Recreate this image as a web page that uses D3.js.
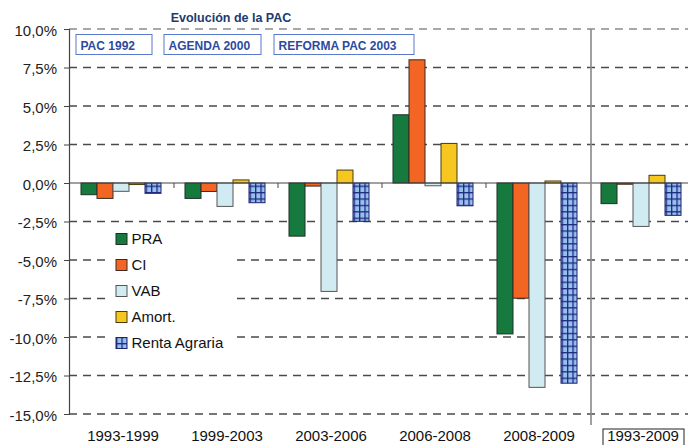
<!DOCTYPE html>
<html>
<head>
<meta charset="utf-8">
<script src="https://cdn.jsdelivr.net/npm/d3@7"></script>
<style>
  html, body { margin: 0; padding: 0; background: #fff; }
  svg { display: block; }
  text { font-family: "Liberation Sans", Arial, sans-serif; }
</style>
</head>
<body>
<svg id="chart" width="688" height="445"></svg>
<script>
// ---- Data ----
const categories = ["1993-1999", "1999-2003", "2003-2006", "2006-2008", "2008-2009", "1993-2009"];
const seriesNames = ["PRA", "CI", "VAB", "Amort.", "Renta Agraria"];
const PRA   = [-0.76, -1.0, -3.45, 4.43, -9.8, -1.34];
const CI    = [-1.0, -0.55, -0.2, 8.0, -7.48, -0.08];
const VAB   = [-0.54, -1.52, -7.04, -0.18, -13.27, -2.82];
const Amort = [-0.1, 0.2, 0.84, 2.57, 0.13, 0.5];
const Renta = [-0.67, -1.28, -2.49, -1.48, -13.0, -2.1];
const yTicks = [10, 7.5, 5, 2.5, 0, -2.5, -5, -7.5, -10, -12.5, -15];
const title = "Evolución de la PAC";
const periodLabels = ["PAC 1992", "AGENDA 2000", "REFORMA PAC 2003"];

const seriesValues = [PRA, CI, VAB, Amort, Renta];
const colors = ["#167a3e", "#f26522", "#d0ebf1", "#f6c720", "url(#grid)"];
const strokes = ["#1f2f24", "#3a2a20", "#555", "#4a3a10", "#1c2270"];

const svg = d3.select("#chart");

// grid pattern for Renta Agraria
const defs = svg.append("defs");
const pat = defs.append("pattern").attr("id", "grid")
  .attr("patternUnits", "userSpaceOnUse")
  .attr("width", 5.4).attr("height", 6.4);
pat.append("rect").attr("width", 5.4).attr("height", 6.4).attr("fill", "#1f2a80");
pat.append("rect").attr("x", 1.3).attr("y", 1.3).attr("width", 4.1).attr("height", 5.1).attr("fill", "#98c0ee");

// ---- Scales ----
const x = d3.scaleBand().domain(categories).range([70, 694]);
const xi = d3.scaleBand().domain(seriesNames).range([11, 91]);
const y = d3.scaleLinear().domain([-15, 10]).range([414, 29]);

// ---- Gridlines ----
svg.append("g").selectAll("line").data(yTicks.filter(d => d !== 0)).join("line")
  .attr("x1", 69).attr("x2", 688)
  .attr("y1", d => y(d)).attr("y2", d => y(d))
  .attr("stroke", d => d === 10 ? "#8a8a8a" : "#4a4a4a")
  .attr("stroke-width", 1.3)
  .attr("stroke-dasharray", "8,6");

// ---- Y axis ----
const yAxis = d3.axisLeft(y).tickValues(yTicks)
  .tickFormat(d => d3.format(".1f")(d).replace(".", ",").replace("−", "-") + "%")
  .tickSize(5).tickPadding(7);
const gy = svg.append("g").attr("transform", "translate(69,0)").call(yAxis);
gy.select(".domain").attr("stroke", "#444").attr("stroke-width", 1.2);
gy.selectAll(".tick line").attr("stroke", "#444");
gy.selectAll(".tick text").attr("font-size", 15).attr("fill", "#222")
  .attr("font-family", "Liberation Sans, Arial, sans-serif").attr("dy", "0.42em");

// ---- Legend background (covers gridlines) ----
const legend = svg.append("g");
legend.append("rect").attr("x", 106).attr("y", 226).attr("width", 126).attr("height", 130).attr("fill", "#fff");

// ---- Bars ----
const groups = svg.append("g").selectAll("g").data(categories).join("g")
  .attr("transform", d => `translate(${x(d)},0)`);
groups.selectAll("rect").data((c, i) => seriesNames.map((s, k) => ({ s, k, v: seriesValues[k][i] }))).join("rect")
  .attr("x", d => xi(d.s))
  .attr("width", xi.bandwidth())
  .attr("y", d => y(Math.max(0, d.v)))
  .attr("height", d => Math.abs(y(d.v) - y(0)))
  .attr("fill", d => colors[d.k])
  .attr("stroke", d => strokes[d.k])
  .attr("stroke-width", 1);

// ---- Zero line & category ticks ----
svg.append("line").attr("x1", 69).attr("x2", 688).attr("y1", y(0)).attr("y2", y(0))
  .attr("stroke", "#444").attr("stroke-width", 1.2);
svg.append("g").selectAll("line").data(categories.slice(1, 5)).join("line")
  .attr("x1", d => x(d)).attr("x2", d => x(d))
  .attr("y1", y(0)).attr("y2", y(0) + 5)
  .attr("stroke", "#444");

// separator line
svg.append("line").attr("x1", x(categories[5]) + 1).attr("x2", x(categories[5]) + 1)
  .attr("y1", y(10)).attr("y2", 425).attr("stroke", "#888").attr("stroke-width", 1.6);

// ---- Category labels ----
svg.append("g").selectAll("text").data(categories).join("text")
  .attr("x", d => x(d) + x.bandwidth() / 2 + 1)
  .attr("y", 441)
  .attr("text-anchor", "middle")
  .attr("font-size", 15).attr("fill", "#111")
  .text(d => d);
svg.append("rect").attr("x", 603).attr("y", 429).attr("width", 81).attr("height", 20)
  .attr("fill", "none").attr("stroke", "#222").attr("stroke-width", 1);

// ---- Legend items ----
const li = legend.selectAll("g.item").data(seriesNames).join("g").attr("class", "item")
  .attr("transform", (d, i) => `translate(116,${239 + i * 26})`);
li.append("rect").attr("x", 0).attr("y", -5.5).attr("width", 11).attr("height", 11)
  .attr("fill", (d, i) => colors[i]).attr("stroke", (d, i) => strokes[i]).attr("stroke-width", 1);
li.append("text").attr("x", 15.5).attr("y", 0).attr("dy", "0.36em")
  .attr("font-size", 15).attr("fill", "#111").text(d => d);

// ---- Title ----
svg.append("text").attr("x", 231).attr("y", 22).attr("text-anchor", "middle")
  .attr("font-size", 12.5).attr("font-weight", "bold").attr("fill", "#203a70").text(title);

// ---- Period boxes ----
const boxX = [76, 164, 274];
const boxW = [76, 97, 140];
const pb = svg.append("g").selectAll("g").data(periodLabels).join("g")
  .attr("transform", (d, i) => `translate(${boxX[i]},34.5)`);
pb.append("rect").attr("width", (d, i) => boxW[i]).attr("height", 20)
  .attr("fill", "#fff").attr("stroke", "#5a78cc").attr("stroke-width", 1);
pb.append("text").attr("x", 4.5).attr("y", 15.3).attr("font-size", 12).attr("font-weight", "bold")
  .attr("fill", "#2d4b9e").text(d => d);
</script>
</body>
</html>
